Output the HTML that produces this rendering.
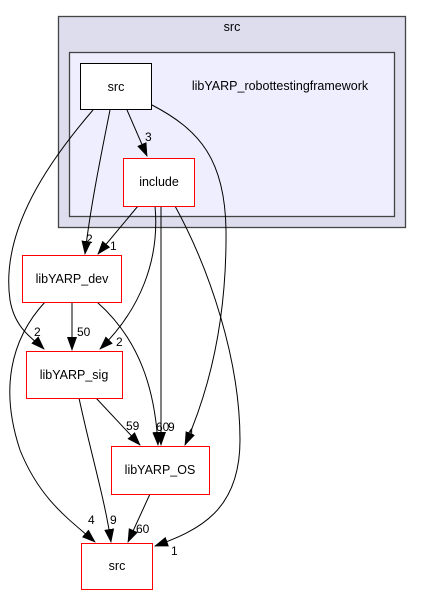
<!DOCTYPE html>
<html><head><style>body{margin:0;background:#fff}svg{display:block}</style></head><body>
<svg width="421" height="596" viewBox="0 0 421 596" xmlns="http://www.w3.org/2000/svg" font-family="Liberation Sans, sans-serif" font-size="12.5">
<defs><marker id="a" markerWidth="14" markerHeight="12" refX="13" refY="6" orient="auto" markerUnits="userSpaceOnUse"><path d="M0,1 L14,6 L0,11 z" fill="#000"/></marker></defs>
<rect x="58.5" y="16.5" width="347" height="211" fill="#ddddee" stroke="#444" stroke-width="1.3"/>
<text x="232" y="31" text-anchor="middle">src</text>
<rect x="69.5" y="52.5" width="325" height="164" fill="#eeeeff" stroke="#444" stroke-width="1.3"/>
<text x="280" y="90" text-anchor="middle">libYARP_robottestingframework</text>
<g fill="none" stroke="#000" stroke-width="1">
<path d="M127,110 L147,156" marker-end="url(#a)"/>
<path d="M110,110 C100,160 90,210 85,254" marker-end="url(#a)"/>
<path d="M93,110 C50,160 0,230 10,300 C15,330 35,340 44,349" marker-end="url(#a)"/>
<path d="M152,105 C200,130 225,160 226,230 C227,330 205,400 185,445" marker-end="url(#a)"/>
<path d="M138,206 L98,254" marker-end="url(#a)"/>
<path d="M155,206 C160,260 140,310 100,349" marker-end="url(#a)"/>
<path d="M161,206 L161,445" marker-end="url(#a)"/>
<path d="M175,206 C210,270 240,360 240,440 C240,510 200,530 155,546" marker-end="url(#a)"/>
<path d="M72,302 L72,350" marker-end="url(#a)"/>
<path d="M97,302 C140,340 155,390 158,445" marker-end="url(#a)"/>
<path d="M45,302 C10,340 0,390 20,450 C40,500 70,520 95,542" marker-end="url(#a)"/>
<path d="M79,398 C90,450 105,500 111,542" marker-end="url(#a)"/>
<path d="M96,398 L140,445" marker-end="url(#a)"/>
<path d="M150,494 L128,542" marker-end="url(#a)"/>
</g>
<g font-size="12">
<text x="145" y="141">3</text>
<text x="86" y="243">2</text>
<text x="110" y="250">1</text>
<text x="34" y="336">2</text>
<text x="77" y="336">50</text>
<text x="116" y="346">2</text>
<text x="126" y="430">59</text>
<text x="156" y="431">60</text>
<text x="168" y="431">9</text>
<text x="187" y="437">4</text>
<text x="88" y="524">4</text>
<text x="110" y="524">9</text>
<text x="136" y="533">60</text>
<text x="171" y="555">1</text>
</g>
<rect x="80.5" y="63.5" width="71" height="46" fill="#fff" stroke="#000"/>
<text x="116" y="91" text-anchor="middle">src</text>
<rect x="123.5" y="158.5" width="71" height="48" fill="#fff" stroke="#f00"/>
<text x="159" y="186" text-anchor="middle">include</text>
<rect x="22.5" y="255.5" width="99" height="47" fill="#fff" stroke="#f00"/>
<text x="72" y="283" text-anchor="middle">libYARP_dev</text>
<rect x="26.5" y="351.5" width="96" height="47" fill="#fff" stroke="#f00"/>
<text x="74" y="379" text-anchor="middle">libYARP_sig</text>
<rect x="111.5" y="446.5" width="98" height="48" fill="#fff" stroke="#f00"/>
<text x="160" y="474" text-anchor="middle">libYARP_OS</text>
<rect x="81.5" y="543.5" width="71" height="46" fill="#fff" stroke="#f00"/>
<text x="117" y="570" text-anchor="middle">src</text>
</svg>
</body></html>
